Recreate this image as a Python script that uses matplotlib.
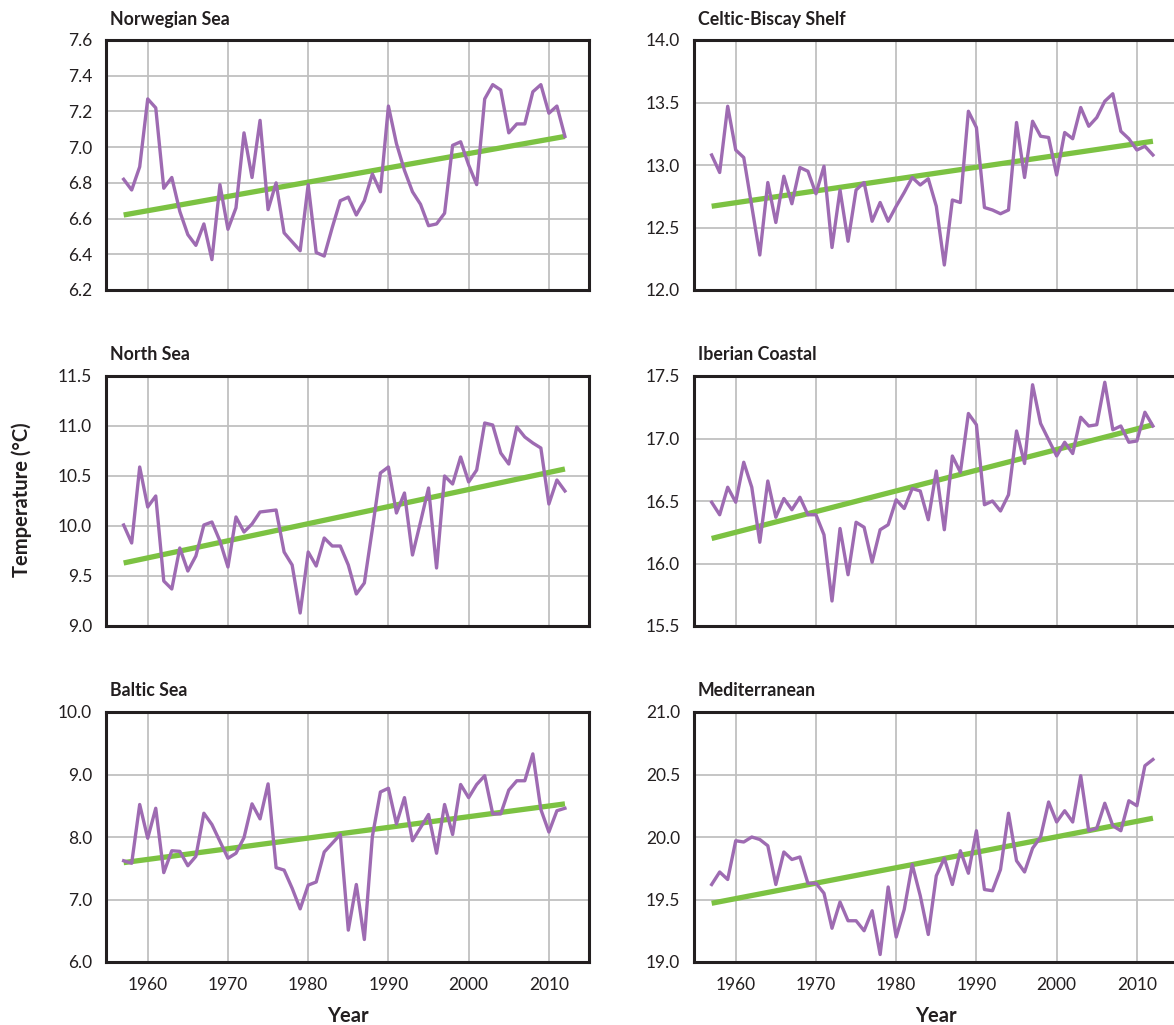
import numpy as np
import matplotlib
matplotlib.use("Agg")
import matplotlib.pyplot as plt
from matplotlib.ticker import MultipleLocator, FormatStrFormatter

plt.rcParams['font.family'] = ['Lato', 'DejaVu Sans']

years = list(range(1957, 2013))

norwegian_sea = [6.82, 6.76, 6.89, 7.27, 7.22, 6.77, 6.83, 6.64, 6.51, 6.45,
                 6.57, 6.37, 6.79, 6.54, 6.66, 7.08, 6.83, 7.15, 6.65, 6.80,
                 6.52, 6.47, 6.42, 6.79, 6.41, 6.39, 6.55, 6.70, 6.72, 6.62,
                 6.70, 6.85, 6.75, 7.23, 7.02, 6.87, 6.75, 6.68, 6.56, 6.57,
                 6.63, 7.01, 7.03, 6.90, 6.79, 7.27, 7.35, 7.32, 7.08, 7.13,
                 7.13, 7.31, 7.35, 7.19, 7.23, 7.06]

celtic_biscay = [13.08, 12.94, 13.47, 13.12, 13.06, 12.67, 12.28, 12.86, 12.54, 12.91,
                 12.69, 12.98, 12.95, 12.77, 12.99, 12.34, 12.80, 12.39, 12.80, 12.86,
                 12.55, 12.70, 12.55, 12.67, 12.78, 12.90, 12.84, 12.89, 12.67, 12.20,
                 12.72, 12.70, 13.43, 13.30, 12.66, 12.64, 12.61, 12.64, 13.34, 12.90,
                 13.35, 13.23, 13.22, 12.92, 13.26, 13.21, 13.46, 13.31, 13.38, 13.51,
                 13.57, 13.27, 13.21, 13.12, 13.15, 13.08]

north_sea = [10.01, 9.83, 10.59, 10.19, 10.30, 9.45, 9.37, 9.78, 9.55, 9.70,
             10.01, 10.04, 9.85, 9.59, 10.09, 9.94, 10.02, 10.14, 10.15, 10.16,
             9.74, 9.61, 9.13, 9.74, 9.60, 9.88, 9.80, 9.80, 9.61, 9.32,
             9.43, 9.97, 10.53, 10.59, 10.13, 10.33, 9.71, 10.04, 10.38, 9.58,
             10.50, 10.42, 10.69, 10.44, 10.56, 11.03, 11.01, 10.73, 10.62, 10.99,
             10.89, 10.83, 10.78, 10.22, 10.46, 10.35]

iberian_coastal = [16.49, 16.39, 16.61, 16.49, 16.81, 16.61, 16.17, 16.66, 16.37, 16.52,
                   16.43, 16.53, 16.39, 16.39, 16.23, 15.70, 16.28, 15.91, 16.33, 16.29,
                   16.01, 16.27, 16.31, 16.51, 16.44, 16.60, 16.58, 16.35, 16.74, 16.27,
                   16.86, 16.73, 17.20, 17.11, 16.47, 16.50, 16.42, 16.55, 17.06, 16.80,
                   17.43, 17.12, 16.99, 16.86, 16.97, 16.88, 17.17, 17.10, 17.11, 17.45,
                   17.07, 17.10, 16.97, 16.98, 17.21, 17.10]

baltic_sea = [7.62, 7.58, 8.52, 7.98, 8.46, 7.43, 7.78, 7.77, 7.54, 7.69,
              8.38, 8.20, 7.93, 7.66, 7.74, 7.99, 8.53, 8.29, 8.85, 7.51,
              7.47, 7.18, 6.85, 7.23, 7.28, 7.76, 7.90, 8.04, 6.51, 7.24,
              6.36, 8.01, 8.72, 8.78, 8.21, 8.63, 7.94, 8.15, 8.36, 7.74,
              8.52, 8.04, 8.84, 8.63, 8.84, 8.98, 8.37, 8.37, 8.75, 8.90,
              8.90, 9.33, 8.44, 8.08, 8.42, 8.46]

mediterranean = [19.62, 19.72, 19.66, 19.97, 19.96, 20.00, 19.98, 19.93, 19.62, 19.88,
                 19.82, 19.84, 19.63, 19.63, 19.55, 19.27, 19.48, 19.33, 19.33, 19.25,
                 19.41, 19.06, 19.60, 19.20, 19.42, 19.78, 19.53, 19.22, 19.69, 19.83,
                 19.62, 19.89, 19.71, 20.05, 19.58, 19.57, 19.74, 20.19, 19.81, 19.72,
                 19.91, 20.00, 20.28, 20.12, 20.21, 20.12, 20.49, 20.05, 20.07, 20.27,
                 20.09, 20.05, 20.29, 20.25, 20.57, 20.62]

# Linear trend values at the first and last year of each series
trend_start = [6.62, 12.67, 9.63, 16.20, 7.59, 19.47]
trend_end = [7.06, 13.19, 10.57, 17.11, 8.53, 20.15]

titles = ["Norwegian Sea", "Celtic-Biscay Shelf", "North Sea",
          "Iberian Coastal", "Baltic Sea", "Mediterranean"]
series = [norwegian_sea, celtic_biscay, north_sea,
          iberian_coastal, baltic_sea, mediterranean]
y_limits = [(6.2, 7.6), (12.0, 14.0), (9.0, 11.5),
            (15.5, 17.5), (6.0, 10.0), (19.0, 21.0)]
y_steps = [0.2, 0.5, 0.5, 0.5, 1.0, 0.5]
x_ticks = [1960, 1970, 1980, 1990, 2000, 2010]

W, H = 1174, 1025
fig = plt.figure(figsize=(W / 100, H / 100), dpi=100)

col_left = [106, 694]
col_width = 483
row_top = [40, 376, 712]
row_height = 250

purple = "#9e6bb2"
green = "#7cc242"
grid_gray = "#c0c0c0"
frame = "#231f20"
text_col = "#231f20"

for i, (title, vals) in enumerate(zip(titles, series)):
    r, c = divmod(i, 2)
    left = col_left[c] / W
    bottom = 1 - (row_top[r] + row_height) / H
    ax = fig.add_axes([left, bottom, col_width / W, row_height / H])

    ax.plot([years[0], years[-1]], [trend_start[i], trend_end[i]],
            color=green, lw=3.8, solid_capstyle="butt", zorder=3)
    ax.plot(years, vals, color=purple, lw=2.4, zorder=4)

    ax.set_xlim(1954.8, 2015)
    ax.set_ylim(*y_limits[i])
    ax.yaxis.set_major_locator(MultipleLocator(y_steps[i]))
    ax.yaxis.set_major_formatter(FormatStrFormatter("%.1f"))
    ax.set_xticks(x_ticks)
    if r < 2:
        ax.set_xticklabels([])
    ax.grid(True, color=grid_gray, lw=1.3)
    ax.set_axisbelow(True)
    ax.tick_params(length=0, labelsize=12.5, colors=text_col, pad=10)
    ax.tick_params(axis="x", pad=11)
    for sp in ax.spines.values():
        sp.set_color(frame)
        sp.set_linewidth(2.2)
    ax.text(0.008, 1.05, title, transform=ax.transAxes, ha="left", va="bottom",
            fontsize=12.8, fontweight="bold", color=text_col)
    if r == 2:
        ax.set_xlabel("Year", fontsize=14.5, fontweight="bold", color=text_col,
                      labelpad=9)

fig.text(22 / W, 1 - 500 / H, "Temperature (°C)", rotation=90, ha="center",
         va="center", fontsize=14.5, fontweight="bold", color=text_col)

fig.savefig("out.png", dpi=100, facecolor="white")
